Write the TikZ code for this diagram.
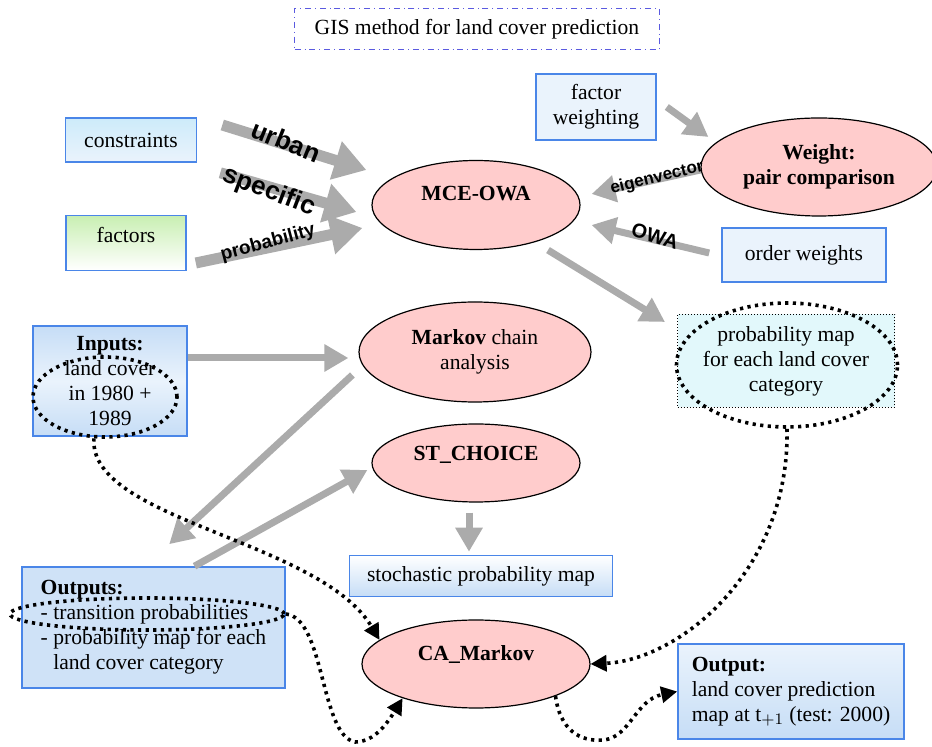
\documentclass[tikz,border=0pt]{standalone}
\usepackage{fontspec}
\setmainfont{Liberation Serif}
\newfontfamily\arwfont{Liberation Sans}
\usepackage{tikz}
\usetikzlibrary{shapes.geometric, arrows.meta, calc}
\definecolor{boxline}{HTML}{4A86E8}
\definecolor{titleline}{HTML}{5A5AE0}
\definecolor{procfill}{HTML}{FFCCCC}
\definecolor{arrowgray}{HTML}{ABABAB}
\definecolor{paleblue}{HTML}{EAF3FC}
\definecolor{midblue}{HTML}{C6DDF6}
\definecolor{skyblue}{HTML}{CDEBFA}
\definecolor{palegreen}{HTML}{C8EFB2}
\definecolor{palecyan}{HTML}{E2F8FB}

\begin{document}
\begin{tikzpicture}[
    x=0.5pt, y=-0.5pt,
    every node/.style={font=\fontsize{10.8}{12.5}\selectfont},
    box/.style={rectangle, draw=boxline, line width=0.8pt, align=center,
                inner sep=2pt},
    proc/.style={ellipse, draw=black, line width=0.6pt, fill=procfill,
                 align=center, inner sep=1pt,
                 font=\fontsize{10.8}{12.5}\selectfont\bfseries},
    ring/.style={ellipse, draw=black, line width=1.8pt, inner sep=0pt,
                 dash pattern=on 1.6pt off 2.2pt},
    dotarrow/.style={line width=1.8pt, dash pattern=on 1.6pt off 2.2pt,
                     -{Triangle[length=8pt, width=8pt]}},
    grayarrow/.style={draw=arrowgray, line width=3.5pt,
                      -{Triangle[length=12pt, width=13pt]}},
    bigarrow/.style={draw=arrowgray, line width=5.5pt,
                     -{Triangle[length=16pt, width=19pt]}},
    arwlabel/.style={inner sep=0pt,
                     font=\arwfont\bfseries\fontsize{13}{13}\selectfont}
]
\useasboundingbox (0,0) rectangle (932,747);

% Title
\node[draw=titleline, dash dot, line width=0.8pt, minimum width=182.5pt,
      minimum height=20.5pt] (title) at (477,29)
    {GIS method for land cover prediction};

% MCE inputs
\node[box, top color=skyblue, bottom color=paleblue, minimum width=65.5pt,
      minimum height=22pt] (cons) at (131,140) {constraints};
\node[box, top color=palegreen, bottom color=white, minimum width=60pt,
      minimum height=27.5pt, text depth=8pt] (fact) at (126,243) {factors};
\node[box, fill=paleblue, minimum width=60pt, minimum height=33pt]
    (fweight) at (596,107) {factor\\weighting};
\node[box, fill=paleblue, minimum width=82pt, minimum height=27pt]
    (order) at (804,255) {order weights};

% Processes
\node[proc, minimum width=104pt, minimum height=44.5pt, text depth=12pt]
    (mce) at (476,205) {MCE-OWA};
\node[proc, minimum width=118pt, minimum height=49pt] (weight) at (819,167)
    {Weight:\\pair comparison};
\node[proc, minimum width=116pt, minimum height=50pt,
      font=\fontsize{10.8}{12.5}\selectfont] (markov) at (475,352)
    {\textbf{Markov} chain\\analysis};
\node[proc, minimum width=104pt, minimum height=39pt, text depth=10pt]
    (stch) at (476,463) {ST\_CHOICE};
\node[proc, minimum width=114pt, minimum height=44pt, text depth=11pt]
    (ca) at (476,664) {CA\_Markov};

% Maps and data
\node[rectangle, draw=black, densely dotted, line width=0.5pt,
      fill=palecyan, align=center, minimum width=108.5pt,
      minimum height=46.5pt] (pmap) at (786,361)
    {probability map\\for each land cover\\category};
\node[box, top color=midblue, bottom color=midblue, middle color=paleblue,
      minimum width=77pt, minimum height=55pt] (inp) at (110,381)
    {\textbf{Inputs:}\\land cover\\in 1980 +\\1989};
\node[box, fill=midblue!85, align=left, minimum width=131.5pt,
      minimum height=60.5pt] (outs) at (153.5,627.5)
    {\textbf{Outputs:}\\- transition probabilities\\- probability map for each\\
     \phantom{- }land cover category};
\node[box, top color=white, bottom color=midblue, minimum width=131.5pt,
      minimum height=20.5pt] (stoch) at (481,576)
    {stochastic probability map};
\node[box, top color=paleblue, bottom color=midblue, align=left,
      minimum width=113pt, minimum height=47.5pt] (outp) at (791,691.5)
    {\textbf{Output:}\\land cover prediction\\map at t$_{+1}$ (test: 2000)};

% Gray arrows
\draw[bigarrow] ([shift={(25,-15)}]cons.east) -- ([shift={(-5,-35)}]mce.west);
\draw[bigarrow] ([shift={(23,10)}]cons.south east) -- ([shift={(-15,7)}]mce.west);
\draw[bigarrow] ([shift={(9,20)}]fact.east) -- ([shift={(-9,23)}]mce.west);
\draw[grayarrow] ([shift={(10,0)}]fweight.east) -- ([shift={(8,-30)}]weight.west);
\draw[grayarrow] ([shift={(0,3)}]weight.west) -- ([shift={(11,-11)}]mce.east);
\draw[grayarrow] ([shift={(-12,-2)}]order.west) -- ([shift={(11,20)}]mce.east);
\draw[grayarrow] ([shift={(72,0)}]mce.south) -- ([shift={(-12,8)}]pmap.north west);
\draw[grayarrow] ([shift={(0,-23)}]inp.east) -- ([shift={(-10,6)}]markov.west);
\draw[grayarrow] ([shift={(-6,23)}]markov.west) -- ([shift={(148,-22)}]outs.north west);
\draw[grayarrow] ([shift={(41,0)}]outs.north) -- ([shift={(-4,7)}]stch.west);
\draw[grayarrow] ([shift={(-7,10)}]stch.south) -- ([shift={(-12,-3)}]stoch.north);

% Arrow labels
\node[arwlabel, rotate=-22] (lurban) at (286,141) {urban};
\node[arwlabel, rotate=-21] (lspec) at (269,192) {specific};
\node[arwlabel, rotate=15, font=\arwfont\bfseries\fontsize{9.5}{9.5}\selectfont]
    (lprob) at (268,243) {probability};
\node[arwlabel, rotate=14, font=\arwfont\bfseries\fontsize{8.5}{8.5}\selectfont]
    (leig) at (657,178) {eigenvector};
\node[arwlabel, rotate=-17, font=\arwfont\bfseries\fontsize{10}{10}\selectfont]
    (lowa) at (655,236) {OWA};

% Dotted rings
\node[ring, minimum width=72pt, minimum height=40pt] (inpring) at (105,397) {};
\node[ring, minimum width=110.5pt, minimum height=62pt] (pmapring) at (787,365) {};
\node[ring, minimum width=137pt, minimum height=16pt] (transring) at (147,614) {};

% Dotted links to CA_Markov
\coordinate (loopA) at (355,742);
\coordinate (loopB) at (603,740);
\draw[dotarrow] (inpring.255) .. controls (88,520) and (320,540) .. (ca.166);
\draw[dotarrow] (pmapring.south) .. controls (790,570) and (680,660) .. (ca.east);
\draw[dotarrow] (transring.east) .. controls (325,618) and (320,735) .. (loopA)
    .. controls (375,742) and (388,722) .. (ca.205);
\draw[dotarrow] (ca.-22) .. controls (560,730) and (580,742) .. (loopB)
    .. controls (630,738) and (635,700) .. (outp.west);

\end{tikzpicture}
\end{document}
